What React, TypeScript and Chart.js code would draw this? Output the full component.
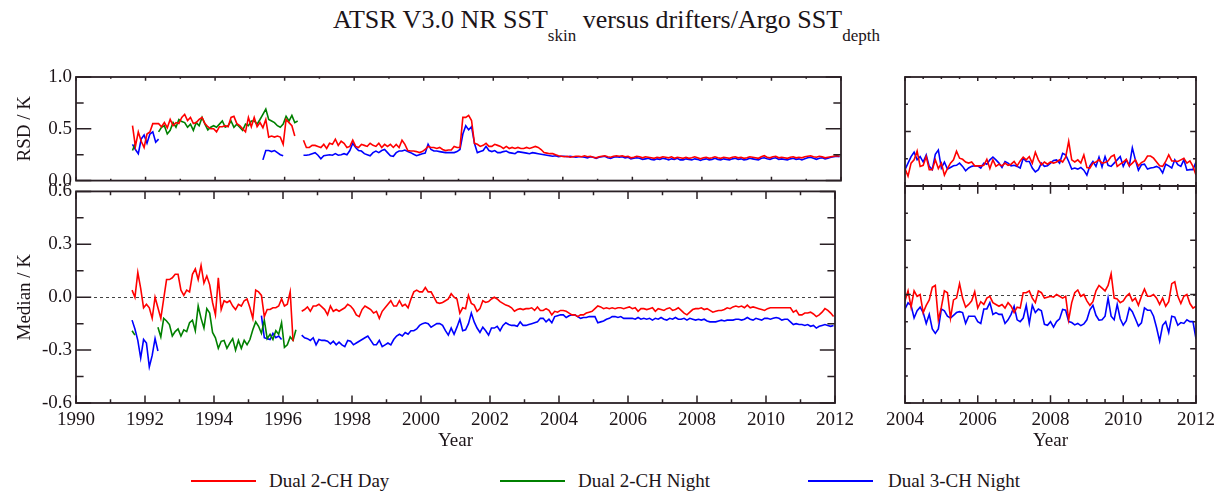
import React, { useEffect, useRef } from "react";
import { Chart, registerables } from "chart.js";

Chart.register(...registerables);

// ---------------- DATA ----------------
// Series colours / legend labels
const SERIES_LABELS = ["Dual 2-CH Day", "Dual 2-CH Night", "Dual 3-CH Night"];
const RED = "#ff0000";
const GREEN = "#008000";
const BLUE = "#0000ff";

// Axis ranges / ticks
const MAIN_X_RANGE = [1990, 2012];
const ZOOM_X_RANGE = [2004, 2012];
const RSD_RANGE = [0, 1];
const MED_RANGE = [-0.6, 0.6];

// Segment start years (monthly samples)
const RED_A_START = 1991.625;
const GREEN_A_START = 1991.625;
const GREEN_B_START = 1992.375;
const BLUE_A_START = 1991.625;
const BLUE_B_START = 1995.375;
const MAIN_START = 1996.542;
const ZOOM_START = 2004.0;

// ---- RSD, early period ----
const redRsdA = [0.53, 0.33, 0.47, 0.38, 0.32, 0.45, 0.47, 0.55, 0.55, 0.55,
  0.52, 0.56, 0.51, 0.59, 0.53, 0.56, 0.55, 0.61, 0.64, 0.58,
  0.61, 0.55, 0.56, 0.59, 0.61, 0.55, 0.52, 0.50, 0.50, 0.47,
  0.52, 0.52, 0.53, 0.52, 0.61, 0.62, 0.55, 0.53, 0.50, 0.47,
  0.61, 0.52, 0.61, 0.52, 0.56, 0.51, 0.59, 0.42, 0.43, 0.42,
  0.43, 0.42, 0.35, 0.59, 0.56, 0.53, 0.43];
const greenRsdA = [0.29, 0.36];
const greenRsdB = [0.47, 0.515, 0.53, 0.45, 0.485, 0.56, 0.515, 0.59, 0.57, 0.56,
  0.515, 0.545, 0.485, 0.56, 0.53, 0.61, 0.545, 0.49, 0.515, 0.53,
  0.515, 0.545, 0.575, 0.515, 0.53, 0.575, 0.515, 0.545, 0.515, 0.485,
  0.545, 0.53, 0.575, 0.575, 0.545, 0.59, 0.64, 0.69, 0.59, 0.575,
  0.56, 0.53, 0.515, 0.545, 0.62, 0.575, 0.63, 0.56, 0.575];
const blueRsdA = [0.35, 0.30, 0.26, 0.40, 0.44, 0.36, 0.45, 0.47, 0.37, 0.40];
const blueRsdB = [0.20, 0.29, 0.29, 0.28, 0.29, 0.27, 0.25, 0.24];

// ---- Median, early period ----
const redMedA = [0.04, 0.0, 0.14, 0.05, -0.06, -0.04, -0.06, -0.12, 0.0, -0.06,
  -0.12, -0.01, 0.10, 0.10, 0.11, 0.13, 0.13, 0.04, 0.01, 0.04,
  0.03, 0.13, 0.16, 0.10, 0.18, 0.08, 0.12, 0.07, -0.03, -0.10,
  0.11, -0.07, -0.02, -0.03, -0.02, -0.05, -0.07, -0.04, -0.05, -0.02,
  -0.01, -0.06, -0.12, 0.04, 0.03, 0.01, -0.11, -0.07, -0.07, -0.06,
  -0.06, -0.05, -0.01, -0.05, -0.04, 0.03, -0.25];
const greenMedA = [-0.19, -0.215];
const greenMedB = [-0.17, -0.225, -0.12, -0.135, -0.155, -0.22, -0.195, -0.18, -0.22, -0.185,
  -0.195, -0.145, -0.13, -0.19, -0.05, -0.12, -0.175, -0.065, -0.09, -0.20,
  -0.23, -0.29, -0.25, -0.245, -0.29, -0.26, -0.235, -0.30, -0.245, -0.29,
  -0.245, -0.27, -0.24, -0.185, -0.14, -0.165, -0.205, -0.13, -0.235, -0.21,
  -0.24, -0.19, -0.21, -0.145, -0.285, -0.27, -0.225, -0.245, -0.185];
const blueMedA = [-0.13, -0.18, -0.245, -0.345, -0.24, -0.26, -0.395, -0.33, -0.235, -0.305];
const blueMedB = [-0.105, -0.23, -0.235, -0.24, -0.205, -0.23, -0.22, -0.24];

// ---- RSD, 1996.5-2012 ----
const redRsdMain = [
  0.39, 0.32, 0.32, 0.34, 0.34, 0.33, 0.32, 0.35, 0.31, 0.36, 0.35, 0.40,
  0.34, 0.38, 0.36, 0.32, 0.33, 0.39, 0.33, 0.32, 0.35, 0.34, 0.33, 0.36,
  0.34, 0.33, 0.36, 0.32, 0.35, 0.33, 0.35, 0.32, 0.35, 0.32, 0.39, 0.35,
  0.29, 0.285, 0.285, 0.28, 0.27, 0.28, 0.30, 0.33, 0.32, 0.32, 0.31, 0.32,
  0.30, 0.29, 0.295, 0.295, 0.33, 0.32, 0.32, 0.61, 0.61, 0.63, 0.58, 0.36,
  0.35, 0.33, 0.34, 0.36, 0.33, 0.33, 0.35, 0.34, 0.33, 0.31, 0.33, 0.31,
  0.32, 0.31, 0.32, 0.31, 0.31, 0.32, 0.31, 0.32, 0.33, 0.32, 0.30, 0.27,
  0.265, 0.26, 0.26, 0.25, 0.24, 0.235, 0.23, 0.235, 0.225, 0.23, 0.235, 0.235,
  0.23, 0.24, 0.23, 0.235, 0.225, 0.22, 0.23, 0.235, 0.24, 0.23, 0.225, 0.235,
  0.24, 0.235, 0.24, 0.23, 0.235, 0.22, 0.225, 0.235, 0.23, 0.22, 0.23, 0.225,
  0.22, 0.215, 0.225, 0.22, 0.23, 0.225, 0.22, 0.23, 0.215, 0.225, 0.22, 0.215,
  0.225, 0.215, 0.22, 0.23, 0.22, 0.21, 0.22, 0.225, 0.215, 0.22, 0.23, 0.22,
  0.215, 0.225, 0.22, 0.215, 0.225, 0.23, 0.22, 0.225, 0.215, 0.22, 0.23, 0.225,
  0.22, 0.215, 0.23, 0.24, 0.225, 0.22, 0.23, 0.235, 0.22, 0.225, 0.22, 0.215,
  0.225, 0.23, 0.22, 0.225, 0.22, 0.23, 0.235, 0.24, 0.23, 0.225, 0.235, 0.23,
  0.22, 0.225, 0.23, 0.235, 0.24, 0.235];
const blueRsdMain = [
  0.245, 0.245, 0.25, 0.26, 0.27, 0.245, 0.21, 0.24, 0.245, 0.25, 0.245, 0.26,
  0.245, 0.25, 0.26, 0.25, 0.29, 0.36, 0.32, 0.29, 0.285, 0.26, 0.25, 0.24,
  0.27, 0.285, 0.27, 0.29, 0.30, 0.27, 0.24, 0.235, 0.27, 0.285, 0.285, 0.295,
  0.28, 0.27, 0.255, 0.24, 0.25, 0.26, 0.265, 0.35, 0.30, 0.285, 0.285, 0.28,
  0.275, 0.27, 0.27, 0.27, 0.27, 0.28, 0.30, 0.45, 0.53, 0.49, 0.52, 0.36,
  0.27, 0.28, 0.29, 0.33, 0.29, 0.28, 0.29, 0.27, 0.27, 0.28, 0.285, 0.27,
  0.265, 0.26, 0.28, 0.275, 0.27, 0.265, 0.26, 0.27, 0.265, 0.26, 0.255, 0.25,
  0.245, 0.24, 0.235, 0.24, 0.23, 0.235, 0.235, 0.23, 0.235, 0.23, 0.225, 0.23,
  0.23, 0.225, 0.22, 0.23, 0.225, 0.215, 0.225, 0.23, 0.235, 0.22, 0.215, 0.225,
  0.23, 0.225, 0.23, 0.22, 0.225, 0.21, 0.215, 0.22, 0.215, 0.205, 0.21, 0.215,
  0.205, 0.2, 0.21, 0.205, 0.215, 0.21, 0.2, 0.21, 0.205, 0.215, 0.2, 0.2,
  0.21, 0.205, 0.2, 0.21, 0.205, 0.195, 0.205, 0.21, 0.2, 0.205, 0.215, 0.205,
  0.2, 0.21, 0.205, 0.2, 0.21, 0.215, 0.205, 0.21, 0.2, 0.205, 0.215, 0.21,
  0.205, 0.2, 0.215, 0.22, 0.21, 0.205, 0.215, 0.22, 0.205, 0.21, 0.205, 0.2,
  0.21, 0.215, 0.205, 0.21, 0.2, 0.21, 0.22, 0.225, 0.215, 0.205, 0.215, 0.22,
  0.21, 0.215, 0.225, 0.23, 0.235, 0.23];

// ---- Median, 1996.5-2012 ----
const redMedMain = [
  -0.08, -0.07, -0.055, -0.08, -0.05, -0.05, -0.04, -0.055, -0.07, -0.10, -0.05, -0.08,
  -0.07, -0.08, -0.07, -0.06, -0.04, -0.05, -0.07, -0.10, -0.11, -0.07, -0.05, -0.06,
  -0.07, -0.09, -0.08, -0.12, -0.08, -0.06, -0.04, -0.02, -0.05, -0.05, -0.02, -0.05,
  -0.04, -0.06, -0.01, 0.03, 0.04, 0.03, 0.03, 0.055, 0.03, 0.03, 0.0, -0.03,
  -0.035, -0.03, -0.02, -0.01, 0.02, 0.0, -0.01, -0.09, -0.06, -0.065, 0.01, -0.035,
  -0.045, -0.08, -0.065, -0.02, -0.03, -0.025, -0.01, 0.0, -0.01, -0.025, -0.035, -0.045,
  -0.05, -0.06, -0.08, -0.07, -0.065, -0.07, -0.065, -0.065, -0.06, -0.075, -0.055, -0.075,
  -0.075, -0.065, -0.075, -0.10, -0.08, -0.085, -0.075, -0.075, -0.08, -0.09, -0.10, -0.10,
  -0.11, -0.10, -0.10, -0.09, -0.085, -0.08, -0.065, -0.05, -0.055, -0.065, -0.06, -0.065,
  -0.06, -0.065, -0.06, -0.06, -0.065, -0.06, -0.055, -0.065, -0.06, -0.08, -0.065, -0.065,
  -0.07, -0.065, -0.06, -0.08, -0.065, -0.07, -0.075, -0.065, -0.06, -0.075, -0.07, -0.06,
  -0.075, -0.09, -0.10, -0.085, -0.07, -0.065, -0.065, -0.06, -0.07, -0.065, -0.075, -0.085,
  -0.08, -0.075, -0.075, -0.07, -0.06, -0.065, -0.055, -0.05, -0.055, -0.05, -0.06, -0.045,
  -0.06, -0.055, -0.06, -0.065, -0.07, -0.075, -0.065, -0.06, -0.06, -0.06, -0.06, -0.06,
  -0.06, -0.06, -0.06, -0.085, -0.075, -0.10, -0.10, -0.09, -0.09, -0.085, -0.095, -0.11,
  -0.10, -0.085, -0.065, -0.075, -0.09, -0.11];
const blueMedMain = [
  -0.215, -0.23, -0.235, -0.245, -0.23, -0.27, -0.24, -0.245, -0.245, -0.25, -0.265, -0.25,
  -0.27, -0.255, -0.27, -0.28, -0.245, -0.25, -0.27, -0.26, -0.25, -0.24, -0.23, -0.22,
  -0.245, -0.27, -0.27, -0.245, -0.28, -0.27, -0.26, -0.27, -0.24, -0.22, -0.21, -0.22,
  -0.20, -0.21, -0.19, -0.19, -0.18, -0.16, -0.15, -0.145, -0.15, -0.17, -0.16, -0.15,
  -0.15, -0.16, -0.19, -0.215, -0.175, -0.21, -0.17, -0.125, -0.19, -0.185, -0.15, -0.09,
  -0.14, -0.175, -0.20, -0.17, -0.19, -0.215, -0.175, -0.175, -0.165, -0.19, -0.16, -0.145,
  -0.155, -0.16, -0.16, -0.165, -0.14, -0.16, -0.16, -0.155, -0.15, -0.145, -0.14, -0.12,
  -0.12, -0.14, -0.125, -0.145, -0.11, -0.105, -0.10, -0.10, -0.115, -0.105, -0.10, -0.10,
  -0.11, -0.12, -0.115, -0.115, -0.11, -0.11, -0.11, -0.145, -0.14, -0.135, -0.125, -0.12,
  -0.11, -0.11, -0.115, -0.11, -0.12, -0.12, -0.12, -0.12, -0.125, -0.115, -0.125, -0.12,
  -0.125, -0.12, -0.13, -0.12, -0.125, -0.115, -0.125, -0.13, -0.12, -0.125, -0.115, -0.125,
  -0.125, -0.12, -0.13, -0.12, -0.125, -0.13, -0.125, -0.13, -0.125, -0.135, -0.14, -0.14,
  -0.14, -0.135, -0.13, -0.135, -0.13, -0.13, -0.13, -0.125, -0.125, -0.13, -0.125, -0.115,
  -0.125, -0.13, -0.12, -0.125, -0.13, -0.12, -0.12, -0.125, -0.12, -0.115, -0.12, -0.13,
  -0.125, -0.125, -0.14, -0.155, -0.15, -0.155, -0.155, -0.16, -0.155, -0.165, -0.16, -0.175,
  -0.165, -0.16, -0.155, -0.16, -0.165, -0.16];

// ---- RSD, 2004-2012 (right panel) ----
const redRsdZoom = [
  0.16, 0.09, 0.21, 0.24, 0.32, 0.18, 0.19, 0.27, 0.15, 0.15,
  0.24, 0.16, 0.21, 0.10, 0.16, 0.21, 0.24, 0.32, 0.255, 0.245,
  0.22, 0.21, 0.22, 0.185, 0.185, 0.185, 0.19, 0.245, 0.16, 0.24,
  0.18, 0.20, 0.185, 0.21, 0.19, 0.20, 0.225, 0.185, 0.23, 0.265,
  0.24, 0.27, 0.21, 0.31, 0.24, 0.195, 0.22, 0.20, 0.22, 0.21,
  0.22, 0.24, 0.22, 0.265, 0.41, 0.24, 0.22, 0.24, 0.21, 0.285,
  0.17, 0.165, 0.21, 0.22, 0.24, 0.21, 0.215, 0.23, 0.27, 0.285,
  0.18, 0.20, 0.22, 0.245, 0.185, 0.21, 0.24, 0.185, 0.215, 0.23,
  0.275, 0.275, 0.255, 0.22, 0.185, 0.18, 0.225, 0.285, 0.23, 0.23,
  0.225, 0.24, 0.255, 0.21, 0.23, 0.18, 0.10];
const blueRsdZoom = [
  0.15, 0.21, 0.27, 0.31, 0.24, 0.27, 0.22, 0.285, 0.18, 0.15,
  0.29, 0.33, 0.165, 0.22, 0.155, 0.17, 0.185, 0.19, 0.21, 0.18,
  0.14, 0.165, 0.18, 0.185, 0.185, 0.165, 0.21, 0.20, 0.24, 0.265,
  0.24, 0.21, 0.17, 0.225, 0.21, 0.185, 0.19, 0.18, 0.165, 0.255,
  0.225, 0.225, 0.165, 0.13, 0.15, 0.21, 0.18, 0.185, 0.21, 0.235,
  0.24, 0.21, 0.30, 0.285, 0.225, 0.155, 0.165, 0.155, 0.17, 0.145,
  0.10, 0.185, 0.225, 0.18, 0.265, 0.175, 0.27, 0.19, 0.18, 0.21,
  0.24, 0.27, 0.18, 0.24, 0.185, 0.35, 0.24, 0.145, 0.195, 0.20,
  0.155, 0.165, 0.17, 0.18, 0.165, 0.12, 0.20, 0.185, 0.165, 0.24,
  0.195, 0.18, 0.24, 0.145, 0.15, 0.15, 0.22];

// ---- Median, 2004-2012 (right panel) ----
const redMedZoom = [
  -0.035, 0.02, -0.07, 0.02, -0.01, 0.0, -0.10, -0.06, -0.03, 0.04,
  0.05, -0.14, -0.07, 0.02, 0.01, -0.13, -0.03, -0.02, 0.06, -0.02,
  -0.07, -0.055, -0.035, 0.015, -0.075, -0.04, -0.055, -0.02, -0.01, -0.045,
  -0.055, -0.065, -0.055, -0.075, -0.045, -0.065, -0.10, -0.07, -0.075, 0.01,
  0.01, 0.02, -0.02, -0.045, 0.02, 0.01, -0.02, -0.015, -0.01, -0.015,
  0.0, -0.01, -0.02, -0.01, -0.14, -0.045, 0.01, 0.025, -0.01, 0.0,
  -0.035, -0.06, -0.04, 0.02, 0.05, 0.035, 0.02, 0.05, 0.115, -0.02,
  -0.025, -0.045, -0.035, -0.01, 0.005, -0.035, -0.02, -0.06, -0.01, 0.03,
  -0.01, -0.01, 0.0, -0.02, -0.055, -0.02, -0.065, -0.04, 0.06, 0.07,
  -0.01, -0.05, -0.01, 0.0, -0.05, -0.075, -0.065];
const blueMedZoom = [
  -0.08, -0.046, -0.06, -0.13, -0.09, -0.07, -0.10, -0.16, -0.11, -0.19,
  -0.215, -0.19, -0.08, -0.09, -0.12, -0.13, -0.115, -0.10, -0.095, -0.10,
  -0.16, -0.12, -0.12, -0.12, -0.15, -0.16, -0.08, -0.08, -0.045, -0.11,
  -0.10, -0.11, -0.11, -0.16, -0.14, -0.11, -0.065, -0.14, -0.15, -0.13,
  -0.06, -0.16, -0.06, -0.10, -0.08, -0.09, -0.165, -0.17, -0.15, -0.18,
  -0.15, -0.135, -0.083, -0.087, -0.15, -0.155, -0.168, -0.16, -0.172, -0.163,
  -0.14, -0.085, -0.06, -0.115, -0.142, -0.14, -0.12, -0.02, -0.12, -0.14,
  -0.055, -0.134, -0.17, -0.145, -0.075, -0.095, -0.134, -0.175, -0.157, -0.074,
  -0.087, -0.087, -0.12, -0.184, -0.258, -0.17, -0.15, -0.21, -0.12, -0.125,
  -0.17, -0.155, -0.16, -0.14, -0.15, -0.15, -0.245];

// ---------------- STYLE ----------------
const FONT_FAMILY = '"Liberation Serif", "Times New Roman", Times, serif';
const TEXT_COLOR = "#1c1418";
const AXIS_COLOR = "#2a2025";

const toPoints = (start: number, vals: number[]) =>
  vals.map((v, i) => ({ x: start + i / 12, y: v }));

const line = (color: string, start: number, vals: number[]) => ({
  data: toPoints(start, vals),
  borderColor: color,
  backgroundColor: color,
  borderWidth: 1.6,
  pointRadius: 0,
  tension: 0,
  fill: false,
});

const panelDecor = {
  id: "panelDecor",
  beforeDatasetsDraw(chart: any, _a: any, opts: any) {
    if (!opts.zeroLine) return;
    const { ctx, chartArea: a, scales } = chart;
    const y = Math.round(scales.y.getPixelForValue(0)) + 0.5;
    ctx.save();
    ctx.strokeStyle = "#444";
    ctx.lineWidth = 1;
    ctx.setLineDash([3, 3]);
    ctx.beginPath();
    ctx.moveTo(a.left, y);
    ctx.lineTo(a.right, y);
    ctx.stroke();
    ctx.restore();
  },
  afterDatasetsDraw(chart: any, _a: any, opts: any) {
    const { ctx, chartArea: a, scales } = chart;
    const xs = scales.x;
    const ys = scales.y;
    const w = a.right - a.left;
    const h = a.bottom - a.top;
    const xMaj = 0.036 * h;
    const yMaj = 0.02 * w;
    ctx.save();
    ctx.strokeStyle = AXIS_COLOR;
    ctx.lineWidth = 1.5;
    ctx.beginPath();
    const nx = Math.round((xs.max - xs.min) / opts.xMinor);
    for (let k = 0; k <= nx; k++) {
      const v = xs.min + k * opts.xMinor;
      const r = v / opts.xMajor;
      const major = Math.abs(r - Math.round(r)) < 1e-6;
      const len = major ? xMaj : xMaj / 2;
      const px = xs.getPixelForValue(v);
      ctx.moveTo(px, a.bottom);
      ctx.lineTo(px, a.bottom - len);
      ctx.moveTo(px, a.top);
      ctx.lineTo(px, a.top + len);
    }
    const ny = Math.round((ys.max - ys.min) / opts.yMinor);
    for (let k = 0; k <= ny; k++) {
      const v = ys.min + k * opts.yMinor;
      const r = v / opts.yMajor;
      const major = Math.abs(r - Math.round(r)) < 1e-6;
      const len = major ? yMaj : yMaj / 2;
      const py = ys.getPixelForValue(v);
      ctx.moveTo(a.left, py);
      ctx.lineTo(a.left + len, py);
      ctx.moveTo(a.right, py);
      ctx.lineTo(a.right - len, py);
    }
    ctx.stroke();
    ctx.lineWidth = 1.8;
    ctx.strokeRect(a.left, a.top, w, h);
    ctx.restore();
  },
};

type PanelSpec = {
  left: number;
  top: number;
  width: number;
  height: number;
  padding: { top: number; right: number; bottom: number; left: number };
  xRange: number[];
  yRange: number[];
  xMajor: number;
  xMinor: number;
  yMajor: number;
  yMinor: number;
  showX: boolean;
  showY: boolean;
  yTitle?: string;
  zeroLine: boolean;
  datasets: any[];
};

const tickFont = { family: FONT_FAMILY, size: 19 };

function buildConfig(p: PanelSpec): any {
  return {
    type: "line",
    data: { datasets: p.datasets },
    plugins: [panelDecor],
    options: {
      animation: false,
      responsive: false,
      devicePixelRatio: 1,
      parsing: false,
      normalized: true,
      events: [],
      layout: { padding: p.padding, autoPadding: false },
      plugins: {
        legend: { display: false },
        tooltip: { enabled: false },
        title: { display: false },
        panelDecor: {
          xMajor: p.xMajor,
          xMinor: p.xMinor,
          yMajor: p.yMajor,
          yMinor: p.yMinor,
          zeroLine: p.zeroLine,
        },
      },
      scales: {
        x: {
          type: "linear",
          min: p.xRange[0],
          max: p.xRange[1],
          display: p.showX,
          grid: { display: false, drawTicks: false },
          border: { display: false },
          ticks: {
            stepSize: p.xMajor,
            autoSkip: false,
            maxRotation: 0,
            minRotation: 0,
            padding: 6,
            font: tickFont,
            color: TEXT_COLOR,
            callback: (v: any) => String(v),
          },
          title: {
            display: p.showX,
            text: "Year",
            font: tickFont,
            color: TEXT_COLOR,
            padding: { top: 0, bottom: 0 },
          },
          afterFit: (s: any) => {
            s.height = p.showX ? 49 : 0;
          },
        },
        y: {
          type: "linear",
          min: p.yRange[0],
          max: p.yRange[1],
          display: p.showY,
          grid: { display: false, drawTicks: false },
          border: { display: false },
          ticks: {
            stepSize: p.yMajor,
            autoSkip: false,
            padding: 4,
            font: tickFont,
            color: TEXT_COLOR,
            callback: (v: any) => Number(v).toFixed(1),
          },
          title: {
            display: !!p.yTitle,
            text: p.yTitle || "",
            font: tickFont,
            color: TEXT_COLOR,
            padding: { top: 14, bottom: 0 },
          },
          afterFit: (s: any) => {
            s.width = p.showY ? 76 : 0;
          },
        },
      },
    },
  };
}

const PANELS: PanelSpec[] = [
  {
    left: 0, top: 57, width: 860, height: 139,
    padding: { top: 20, right: 19, bottom: 10, left: 0 },
    xRange: MAIN_X_RANGE, yRange: RSD_RANGE,
    xMajor: 2, xMinor: 1, yMajor: 0.5, yMinor: 0.25,
    showX: false, showY: true, yTitle: "RSD / K", zeroLine: false,
    datasets: [
      line(RED, RED_A_START, redRsdA),
      line(RED, MAIN_START, redRsdMain),
      line(GREEN, GREEN_A_START, greenRsdA),
      line(GREEN, GREEN_B_START, greenRsdB),
      line(BLUE, BLUE_A_START, blueRsdA),
      line(BLUE, BLUE_B_START, blueRsdB),
      line(BLUE, MAIN_START, blueRsdMain),
    ],
  },
  {
    left: 0, top: 176, width: 860, height: 276,
    padding: { top: 10, right: 19, bottom: 0, left: 0 },
    xRange: MAIN_X_RANGE, yRange: MED_RANGE,
    xMajor: 2, xMinor: 1, yMajor: 0.3, yMinor: 0.15,
    showX: true, showY: true, yTitle: "Median / K", zeroLine: true,
    datasets: [
      line(RED, RED_A_START, redMedA),
      line(RED, MAIN_START, redMedMain),
      line(GREEN, GREEN_A_START, greenMedA),
      line(GREEN, GREEN_B_START, greenMedB),
      line(BLUE, BLUE_A_START, blueMedA),
      line(BLUE, BLUE_B_START, blueMedB),
      line(BLUE, MAIN_START, blueMedMain),
    ],
  },
  {
    left: 865, top: 57, width: 359, height: 139,
    padding: { top: 20, right: 28, bottom: 10, left: 40 },
    xRange: ZOOM_X_RANGE, yRange: RSD_RANGE,
    xMajor: 2, xMinor: 0.5, yMajor: 0.5, yMinor: 0.25,
    showX: false, showY: false, zeroLine: false,
    datasets: [
      line(RED, ZOOM_START, redRsdZoom),
      line(BLUE, ZOOM_START, blueRsdZoom),
    ],
  },
  {
    left: 865, top: 176, width: 359, height: 276,
    padding: { top: 10, right: 28, bottom: 0, left: 40 },
    xRange: ZOOM_X_RANGE, yRange: MED_RANGE,
    xMajor: 2, xMinor: 0.5, yMajor: 0.3, yMinor: 0.15,
    showX: true, showY: false, zeroLine: true,
    datasets: [
      line(RED, ZOOM_START, redMedZoom),
      line(BLUE, ZOOM_START, blueMedZoom),
    ],
  },
];

function Panel({ spec }: { spec: PanelSpec }) {
  const ref = useRef<HTMLCanvasElement | null>(null);
  useEffect(() => {
    if (!ref.current) return;
    const chart = new Chart(ref.current, buildConfig(spec));
    return () => chart.destroy();
  }, [spec]);
  return (
    <canvas
      ref={ref}
      width={spec.width}
      height={spec.height}
      style={{
        position: "absolute",
        left: spec.left,
        top: spec.top,
        width: spec.width,
        height: spec.height,
        display: "block",
      }}
    />
  );
}

const LEGEND_ITEMS = [
  { label: SERIES_LABELS[0], color: RED, lineLeft: 191, textLeft: 269 },
  { label: SERIES_LABELS[1], color: GREEN, lineLeft: 500, textLeft: 578 },
  { label: SERIES_LABELS[2], color: BLUE, lineLeft: 808, textLeft: 888 },
];

export default function App() {
  return (
    <div
      style={{
        position: "absolute",
        left: 0,
        top: 0,
        width: 1224,
        height: 491,
        overflow: "hidden",
        background: "#ffffff",
        fontFamily: FONT_FAMILY,
        color: TEXT_COLOR,
      }}
    >
      <div
        style={{
          position: "absolute",
          left: 333,
          top: 5,
          fontSize: 26,
          lineHeight: "30px",
          whiteSpace: "nowrap",
        }}
      >
        ATSR V3.0 NR SST
        <span style={{ fontSize: 17, position: "relative", top: 13 }}>skin</span>
        {" "}versus drifters/Argo SST
        <span style={{ fontSize: 17, position: "relative", top: 13 }}>depth</span>
      </div>
      {PANELS.map((p, i) => (
        <Panel key={i} spec={p} />
      ))}
      {LEGEND_ITEMS.map((it) => (
        <React.Fragment key={it.label}>
          <div
            style={{
              position: "absolute",
              left: it.lineLeft,
              top: 480,
              width: 65,
              height: 0,
              borderTop: `2px solid ${it.color}`,
            }}
          />
          <div
            style={{
              position: "absolute",
              left: it.textLeft,
              top: 471,
              fontSize: 19,
              lineHeight: "20px",
              whiteSpace: "nowrap",
            }}
          >
            {it.label}
          </div>
        </React.Fragment>
      ))}
    </div>
  );
}
